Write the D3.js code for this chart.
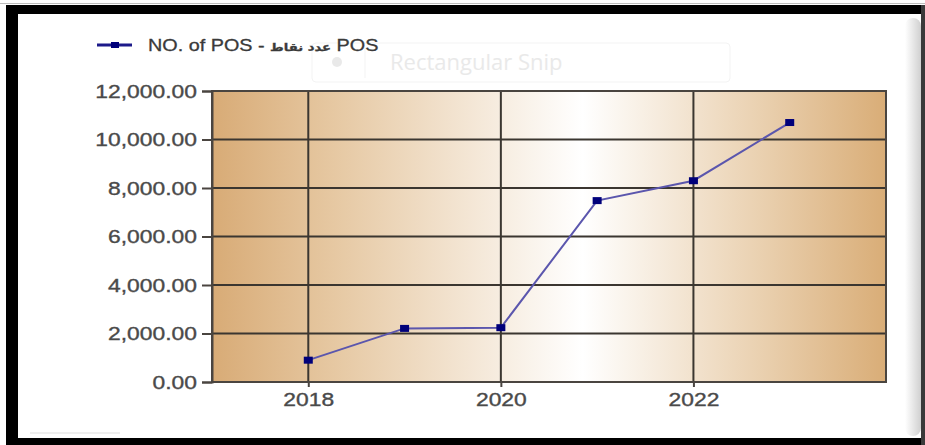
<!DOCTYPE html>
<html>
<head>
<meta charset="utf-8">
<script src="https://cdn.jsdelivr.net/npm/d3@7/dist/d3.min.js"></script>
<style>
  html, body { margin: 0; padding: 0; background: #fff; }
  svg { display: block; }
</style>
</head>
<body>
<svg id="chart" width="925" height="445"></svg>
<script>
// Yearly count of point-of-sale terminals
const years = [2018, 2019, 2020, 2021, 2022, 2023];
const posCounts = [900, 2210, 2240, 7480, 8300, 10700];
const yTicks = [0, 2000, 4000, 6000, 8000, 10000, 12000];
const xTicks = [2018, 2020, 2022];
const seriesName = "NO. of POS - ";
const seriesNameAr = "عدد نقاط";
const seriesNameTail = " POS";

const W = 925, H = 445;
const plot = { left: 212, right: 886, top: 91, bottom: 382 };
const stretch = 1.27; // wide glyphs used by the chart labels

const svg = d3.select("#chart");
const defs = svg.append("defs");

// plot background: tan at both edges, fading to white
const bg = defs.append("linearGradient").attr("id", "plotBg")
  .attr("x1", "0%").attr("x2", "100%").attr("y1", "0%").attr("y2", "0%");
bg.append("stop").attr("offset", "0%").attr("stop-color", "#d8ab76");
bg.append("stop").attr("offset", "18%").attr("stop-color", "#e6c8a2");
bg.append("stop").attr("offset", "55%").attr("stop-color", "#ffffff");
bg.append("stop").attr("offset", "80%").attr("stop-color", "#ebd3b4");
bg.append("stop").attr("offset", "100%").attr("stop-color", "#d9ad77");

const shade = defs.append("linearGradient").attr("id", "sideShade")
  .attr("x1", "0%").attr("x2", "100%");
shade.append("stop").attr("offset", "0%").attr("stop-color", "#ffffff");
shade.append("stop").attr("offset", "100%").attr("stop-color", "#c4c4c4");

// outer frame
svg.append("rect").attr("x", 0).attr("y", 0).attr("width", W).attr("height", H).attr("fill", "#fff");
svg.append("line").attr("x1", 0).attr("x2", W).attr("y1", 3.5).attr("y2", 3.5).attr("stroke", "#bdbdbd").attr("stroke-width", 1);
svg.append("rect").attr("x", 6).attr("y", 5).attr("width", W - 6).attr("height", 9).attr("fill", "#000");
svg.append("rect").attr("x", 6).attr("y", 5).attr("width", 12).attr("height", H - 5).attr("fill", "#000");
svg.append("rect").attr("x", 6).attr("y", 438).attr("width", W - 6).attr("height", 7).attr("fill", "#000");
svg.append("rect").attr("x", 921).attr("y", 5).attr("width", 4).attr("height", H - 5).attr("fill", "#3a3a3a");
// panel edge shading
svg.append("rect").attr("x", 905).attr("y", 18).attr("width", 16).attr("height", 418)
  .attr("rx", 8).attr("fill", "url(#sideShade)").attr("opacity", 0.8);
svg.append("line").attr("x1", 30).attr("x2", 120).attr("y1", 433).attr("y2", 433)
  .attr("stroke", "#e8e8e8").attr("stroke-width", 1.5);

// snipping tool hint box
const snip = svg.append("g").attr("opacity", 0.85);
snip.append("rect").attr("x", 312).attr("y", 43).attr("width", 418).attr("height", 39)
  .attr("rx", 4).attr("fill", "#fff").attr("stroke", "#f2f2f2");
snip.append("circle").attr("cx", 337).attr("cy", 62).attr("r", 5).attr("fill", "#e6e6e6");
snip.append("line").attr("x1", 365).attr("x2", 365).attr("y1", 47).attr("y2", 78).attr("stroke", "#f2f2f2");
snip.append("text").attr("x", 390).attr("y", 70)
  .attr("font-family", "'Open Sans', sans-serif").attr("font-size", 22)
  .attr("fill", "#e6e6e6").text("Rectangular Snip");

// scales
const x = d3.scaleLinear().domain([2017, 2024]).range([plot.left, plot.right]);
const y = d3.scaleLinear().domain([0, 12000]).range([plot.bottom, plot.top]);

// plot area
svg.append("rect")
  .attr("x", plot.left).attr("y", plot.top)
  .attr("width", plot.right - plot.left).attr("height", plot.bottom - plot.top)
  .attr("fill", "url(#plotBg)");

// grid
const grid = svg.append("g").attr("stroke", "#3b3630").attr("stroke-width", 2);
grid.selectAll("line.h").data(yTicks).join("line").attr("class", "h")
  .attr("x1", plot.left).attr("x2", plot.right)
  .attr("y1", d => y(d)).attr("y2", d => y(d));
grid.selectAll("line.v").data(xTicks).join("line").attr("class", "v")
  .attr("x1", d => x(d)).attr("x2", d => x(d))
  .attr("y1", plot.top).attr("y2", plot.bottom);

// plot border
svg.append("rect")
  .attr("x", plot.left).attr("y", plot.top)
  .attr("width", plot.right - plot.left).attr("height", plot.bottom - plot.top)
  .attr("fill", "none").attr("stroke", "#4a4540").attr("stroke-width", 2);

const labelFont = "'Liberation Sans', Arial, sans-serif";

// y axis
const yAxis = svg.append("g")
  .attr("transform", `translate(${plot.left},0)`)
  .call(d3.axisLeft(y).tickValues(yTicks).tickSize(10).tickPadding(15)
    .tickFormat(d3.format(",.2f")));
yAxis.select(".domain").attr("stroke", "#4a4540").attr("stroke-width", 2);
yAxis.selectAll(".tick line").attr("stroke", "#4a4540").attr("stroke-width", 2);
yAxis.selectAll(".tick text")
  .attr("font-family", labelFont).attr("font-size", 18).attr("fill", "#4a4a4a")
  .attr("stroke", "#4a4a4a").attr("stroke-width", 0.35)
  .attr("x", -15 / stretch).attr("dy", "0.36em")
  .attr("transform", `scale(${stretch},1)`);

// x axis
const xAxis = svg.append("g")
  .attr("transform", `translate(0,${plot.bottom})`)
  .call(d3.axisBottom(x).tickValues(xTicks).tickSize(5).tickPadding(10)
    .tickFormat(d3.format("d")));
xAxis.select(".domain").remove();
xAxis.selectAll(".tick line").attr("stroke", "#4a4540").attr("stroke-width", 2);
xAxis.selectAll(".tick text")
  .attr("font-family", labelFont).attr("font-size", 18).attr("fill", "#4a4a4a")
  .attr("stroke", "#4a4a4a").attr("stroke-width", 0.35)
  .attr("y", 24).attr("dy", 0)
  .attr("transform", `scale(${stretch},1)`);

// series line
const line = d3.line().x((d, i) => x(years[i])).y(d => y(d));
svg.append("path").datum(posCounts)
  .attr("d", line).attr("fill", "none")
  .attr("stroke", "#5b56ad").attr("stroke-width", 2);

svg.selectAll("rect.pt").data(posCounts).join("rect").attr("class", "pt")
  .attr("x", (d, i) => x(years[i]) - 4.5).attr("y", d => y(d) - 3.5)
  .attr("width", 9).attr("height", 7).attr("fill", "#00007a");

// legend
const legend = svg.append("g");
legend.append("line").attr("x1", 97).attr("x2", 132).attr("y1", 45).attr("y2", 45)
  .attr("stroke", "#1c1a8a").attr("stroke-width", 3);
legend.append("rect").attr("x", 111).attr("y", 42).attr("width", 8).attr("height", 6).attr("fill", "#00007a");
const lt = legend.append("text")
  .attr("transform", `translate(148,51) scale(1.2,1)`)
  .attr("font-family", labelFont).attr("font-size", 16.5).attr("fill", "#3a3a3a")
  .attr("stroke", "#3a3a3a").attr("stroke-width", 0.3);
lt.append("tspan").text(seriesName);
lt.append("tspan").attr("font-family", "'DejaVu Sans', sans-serif").attr("font-size", 11)
  .attr("font-weight", "bold").text(seriesNameAr);
lt.append("tspan").text(seriesNameTail);
</script>
</body>
</html>
